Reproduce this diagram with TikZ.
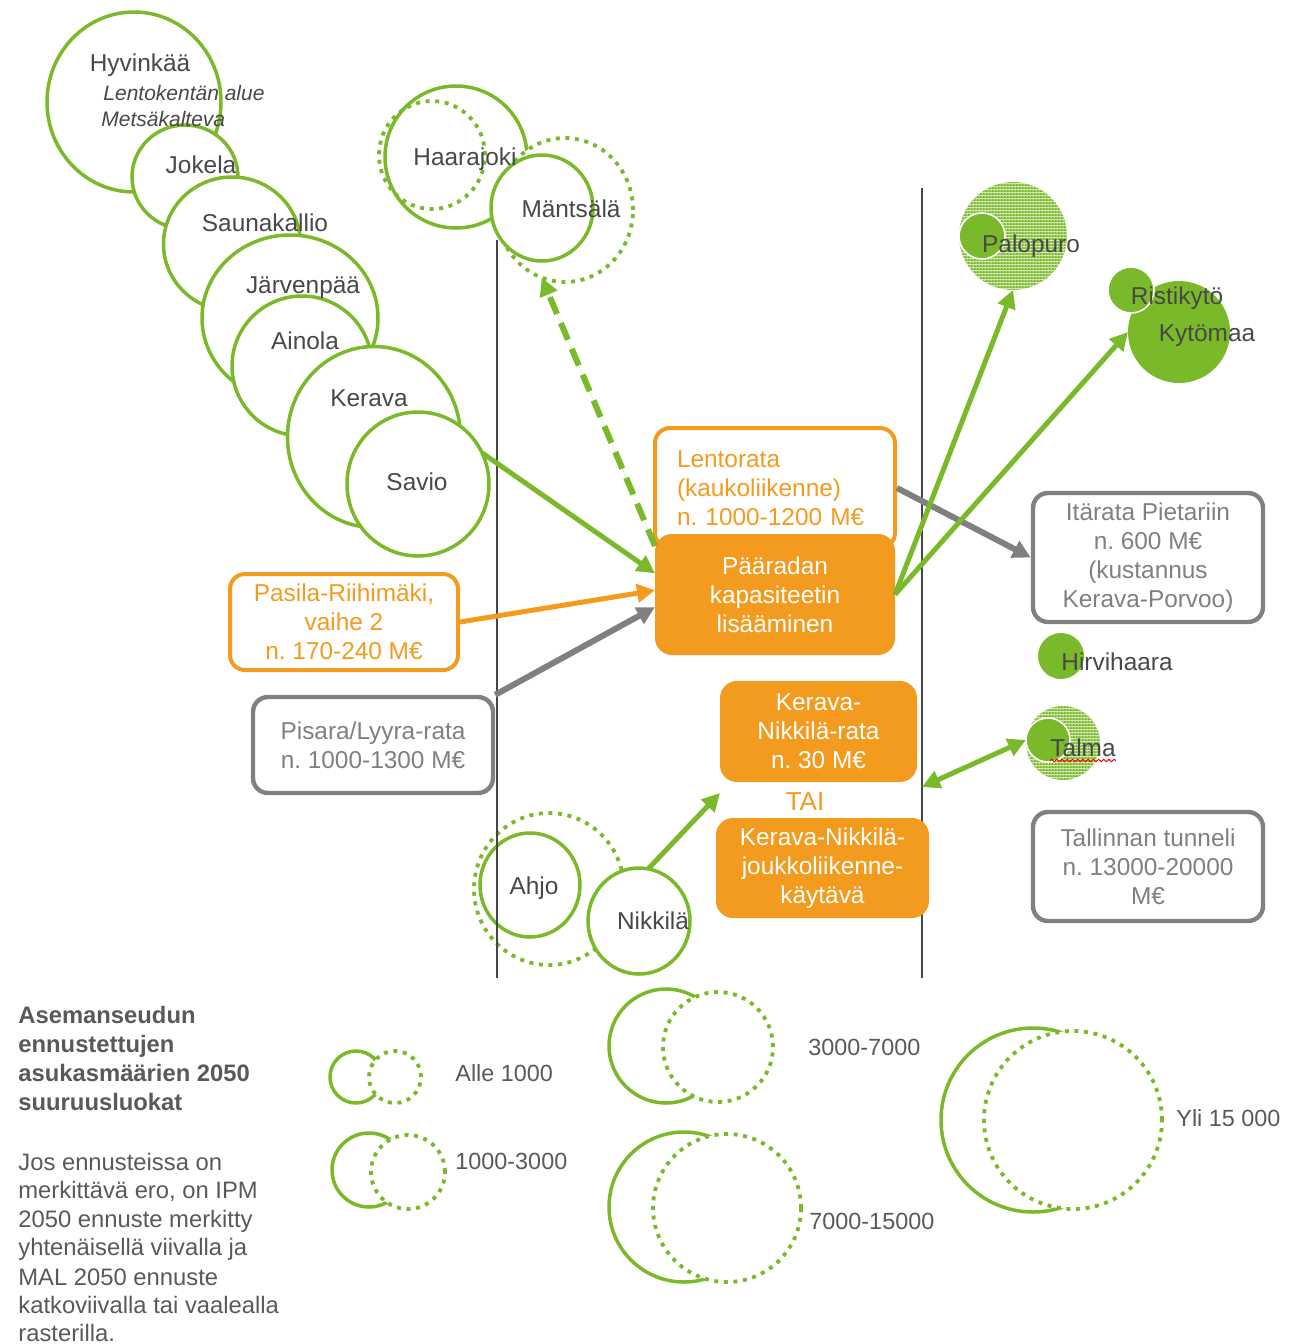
\documentclass[tikz,border=0pt]{standalone}
\usepackage{fontspec}
\setmainfont{Liberation Sans}
\usetikzlibrary{arrows.meta,shapes.geometric,decorations.pathmorphing,patterns.meta}
\definecolor{gr}{RGB}{122,185,41}
\definecolor{og}{RGB}{243,155,30}
\definecolor{gy}{RGB}{128,128,128}
\definecolor{tx}{RGB}{72,72,72}
\definecolor{lg}{RGB}{89,89,89}
\definecolor{vl}{RGB}{70,70,70}
\tikzdeclarepattern{
  name=raster,
  type=colored,
  bounding box={(0pt,0pt) and (1.5pt,1.5pt)},
  tile size={(1.5pt,1.5pt)},
  code={
    \fill[gr] (0pt,0pt) rectangle (1.5pt,1.5pt);
    \fill[white] (0.45pt,0.45pt) rectangle (1.05pt,1.05pt);
  }
}
\begin{document}
\begin{tikzpicture}[x=0.5pt,y=-0.5pt,
  fnt/.style={font=\fontsize{12.2}{14.5}\selectfont\frenchspacing},
  circ/.style={ellipse, draw=gr, line width=1.75pt, fill=white, inner sep=0pt, outer sep=0pt},
  dcirc/.style={circ, line width=1.9pt, dash pattern=on 2pt off 2.8pt},
  dcircnf/.style={dcirc, fill=none},
  sdisk/.style={circle, fill=gr, inner sep=0pt, outer sep=0pt},
  wdisk/.style={sdisk, draw=white, line width=0.8pt},
  rdisk/.style={circle, pattern=raster, inner sep=0pt, outer sep=0pt},
  lsd/.style={circle, draw=gr, line width=1.75pt, fill=white, inner sep=0pt, outer sep=0pt},
  ldt/.style={lsd, line width=1.9pt, dash pattern=on 2pt off 2.8pt},
  box/.style={rectangle, rounded corners=7.5pt, line width=2pt, align=center, inner sep=2pt, fnt},
  obox/.style={box, draw=og, fill=white, text=og},
  fbox/.style={box, draw=og, fill=og, text=white},
  gbox/.style={box, draw=gy, fill=white, text=gy, line width=2.2pt},
  lab/.style={fnt, text=tx, anchor=base, inner sep=0pt},
  ilab/.style={font=\fontsize{10.5}{12}\selectfont\itshape, text=tx, anchor=base west, inner sep=0pt},
  leg/.style={font=\fontsize{11.9}{14}\selectfont, text=lg, anchor=base west, inner sep=0pt},
  legb/.style={leg, font=\fontsize{11.9}{14}\selectfont\bfseries},
  legn/.style={leg, font=\fontsize{11.7}{14}\selectfont},
  vline/.style={draw=vl, line width=0.6pt},
  tip/.style={-{Triangle[length=9pt,width=9pt]}},
  garr/.style={tip, draw=gr, fill=gr, line width=2.5pt},
  oarr/.style={tip, draw=og, fill=og, line width=2.5pt},
  yarr/.style={tip, draw=gy, fill=gy, line width=3pt},
  darr/.style={garr, line width=3pt, dash pattern=on 9pt off 5pt}
]
\path[use as bounding box] (0,0) rectangle (1291,1344);

% left chain of circles
\node[circ, minimum width=87pt, minimum height=90pt] (hyv) at (134,102) {};
\node[circ, minimum width=53pt, minimum height=52pt] (jok) at (185,177) {};
\node[circ, minimum width=68.5pt, minimum height=67pt] (sau) at (232,244) {};
\node[circ, minimum width=88pt, minimum height=83pt] (jar) at (290,318) {};
\node[circ, minimum width=70pt, minimum height=70pt] (ain) at (302,366) {};
\node[circ, minimum width=86.5pt, minimum height=90.5pt] (ker) at (374,437) {};
\node[circ, minimum width=71pt, minimum height=72pt] (sav) at (418,484) {};

% Haarajoki / Mantsala
\node[circ, minimum width=71pt, minimum height=71pt] (haaS) at (456,157) {};
\node[dcircnf, minimum width=53pt, minimum height=54pt] (haaD) at (432,155) {};
\node[dcirc, minimum width=68pt, minimum height=72pt] (manD) at (565,210) {};
\node[circ, minimum width=51pt, minimum height=53pt] (manS) at (542,208) {};

% Ahjo / Nikkila
\node[dcirc, minimum width=75pt, minimum height=76pt] (ahjD) at (549,889) {};
\node[circ, fill=none, minimum width=50pt, minimum height=52pt] (ahjS) at (530,885) {};
\node[circ, minimum width=51pt, minimum height=53pt] (nikS) at (639,921) {};

% right side discs
\node[rdisk, minimum size=54pt] (palD) at (1013,236) {};
\node[wdisk, minimum size=23pt] (palS) at (982,236) {};
\node[sdisk, minimum size=51pt] (kytS) at (1179,332) {};
\node[wdisk, minimum size=23pt] (risS) at (1131,290) {};
\node[sdisk, minimum size=23pt] (hirS) at (1061,656) {};
\node[rdisk, minimum size=37pt] (talD) at (1063,743) {};
\node[wdisk, minimum size=22pt] (talS) at (1048,740) {};

% vertical lines
\coordinate (v1t) at (497,240); \coordinate (v1b) at (497,978);
\coordinate (v2t) at (922,188); \coordinate (v2b) at (922,978);
\draw[vline] (v1t) -- (v1b);
\draw[vline] (v2t) -- (v2b);

% boxes
\node[obox, align=left, text width=98pt, inner xsep=11pt, minimum height=60pt] (lento) at (775,488) {Lentorata\\(kaukoliikenne)\\n. 1000-1200 M€};
\node[fbox, minimum width=118pt, minimum height=58.5pt] (paa) at (775,594.5) {Pääradan\\kapasiteetin\\lisääminen};
\node[obox, minimum width=114pt, minimum height=48pt] (pas) at (344,622) {Pasila-Riihimäki,\\vaihe 2\\n. 170-240 M€};
\node[gbox, minimum width=120pt, minimum height=48pt] (pis) at (373,745) {Pisara/Lyyra-rata\\n. 1000-1300 M€};
\node[fbox, minimum width=96.5pt, minimum height=48.5pt] (knr) at (818.5,731.5) {Kerava-\\Nikkilä-rata\\n. 30 M€};
\node[fbox, minimum width=104.5pt, minimum height=48pt] (knj) at (822.5,868) {Kerava-Nikkilä-\\joukkoliikenne-\\käytävä};
\node[gbox, minimum width=115pt, minimum height=64.5pt] (ita) at (1148,557.5) {Itärata Pietariin\\n. 600 M€\\(kustannus\\Kerava-Porvoo)};
\node[gbox, minimum width=115pt, minimum height=54.5pt] (tal) at (1148,866.5) {Tallinnan tunneli\\n. 13000-20000\\M€};
\node[fnt, font=\fontsize{13}{15}\selectfont, text=og, anchor=base, inner sep=0pt] (tai) at (805,810) {TAI};

% arrows
\draw[garr] (sav.26) -- (paa.170);
\draw[darr] (paa.158) -- (manD.251);
\draw[oarr] (pas.east) -- (paa.178);
\draw[yarr] (pis.north east) -- (paa.186);
\draw[yarr] (lento.east) -- (ita.west);
\draw[garr] (paa.east) -- (palD.south);
\draw[garr] (paa.east) -- (kytS.west);
\coordinate (a8end) at (720,793);
\draw[garr] (nikS.80) -- (a8end);
\coordinate (a9l) at (922,787);
\draw[garr, {Triangle[length=9pt,width=9pt]}-{Triangle[length=9pt,width=9pt]}] (a9l) -- (talS.west);

% circle labels
\node[lab] (lhyv) at (140,71.5) {Hyvinkää};
\node[ilab] (llen) at (103,100) {Lentokentän alue};
\node[ilab] (lmet) at (101,126) {Metsäkalteva};
\node[lab] (ljok) at (201,173.5) {Jokela};
\node[lab] (lsau) at (265,231.5) {Saunakallio};
\node[lab] (ljar) at (303,293.5) {Järvenpää};
\node[lab] (lain) at (305,349.5) {Ainola};
\node[lab] (lker) at (369,406.5) {Kerava};
\node[lab] (lsav) at (417,490.5) {Savio};
\node[lab] (lhaa) at (465,165.5) {Haarajoki};
\node[lab] (lman) at (571,217.5) {Mäntsälä};
\node[lab] (lahj) at (534,894.5) {Ahjo};
\node[lab] (lnik) at (653,929.5) {Nikkilä};
\node[lab] (lpal) at (1031,252.5) {Palopuro};
\node[lab] (lris) at (1177,304.5) {Ristikytö};
\node[lab] (lkyt) at (1207,341.5) {Kytömaa};
\node[lab] (lhir) at (1117,670.5) {Hirvihaara};
\node[lab] (ltal) at (1083,756.5) {Talma};
\draw[red, line width=0.5pt, decorate, decoration={snake, amplitude=0.6pt, segment length=2.6pt}]
  ([yshift=-2pt]ltal.base west) -- ([yshift=-2pt]ltal.base east);

% legend text
\node[legb] (t1) at (18,1023.5) {Asemanseudun};
\node[legb] (t2) at (18,1052.5) {ennustettujen};
\node[legb] (t3) at (18,1081.5) {asukasmäärien 2050};
\node[legb] (t4) at (18,1110.5) {suuruusluokat};
\node[leg] (b1) at (18,1170) {Jos ennusteissa on};
\node[leg] (b2) at (18,1198.5) {merkittävä ero, on IPM};
\node[leg] (b3) at (18,1227) {2050 ennuste merkitty};
\node[leg] (b4) at (18,1255.5) {yhtenäisellä viivalla ja};
\node[leg] (b5) at (18,1285) {MAL 2050 ennuste};
\node[leg] (b6) at (18,1313.5) {katkoviivalla tai vaalealla};
\node[leg] (b7) at (18,1341.5) {rasterilla.};

% legend circles
\node[lsd, minimum size=26pt] (l1s) at (356,1077) {};
\node[ldt, minimum size=26pt] (l1d) at (395,1077) {};
\node[lsd, minimum size=37pt] (l2s) at (369,1170) {};
\node[ldt, minimum size=37pt] (l2d) at (408,1172) {};
\node[lsd, minimum size=57pt] (l3s) at (666,1046) {};
\node[ldt, minimum size=55pt] (l3d) at (718,1047) {};
\node[lsd, minimum size=75pt] (l4s) at (684,1207) {};
\node[ldt, minimum size=74pt] (l4d) at (727,1208) {};
\node[lsd, minimum size=92pt] (l5s) at (1033,1120) {};
\node[ldt, minimum size=89pt] (l5d) at (1073,1120) {};

\node[legn] (n1) at (455,1081.5) {Alle 1000};
\node[legn] (n2) at (455,1169.5) {1000-3000};
\node[legn] (n3) at (808,1055.5) {3000-7000};
\node[legn] (n4) at (809,1229.5) {7000-15000};
\node[legn] (n5) at (1176,1126.5) {Yli 15 000};
\end{tikzpicture}
\end{document}
